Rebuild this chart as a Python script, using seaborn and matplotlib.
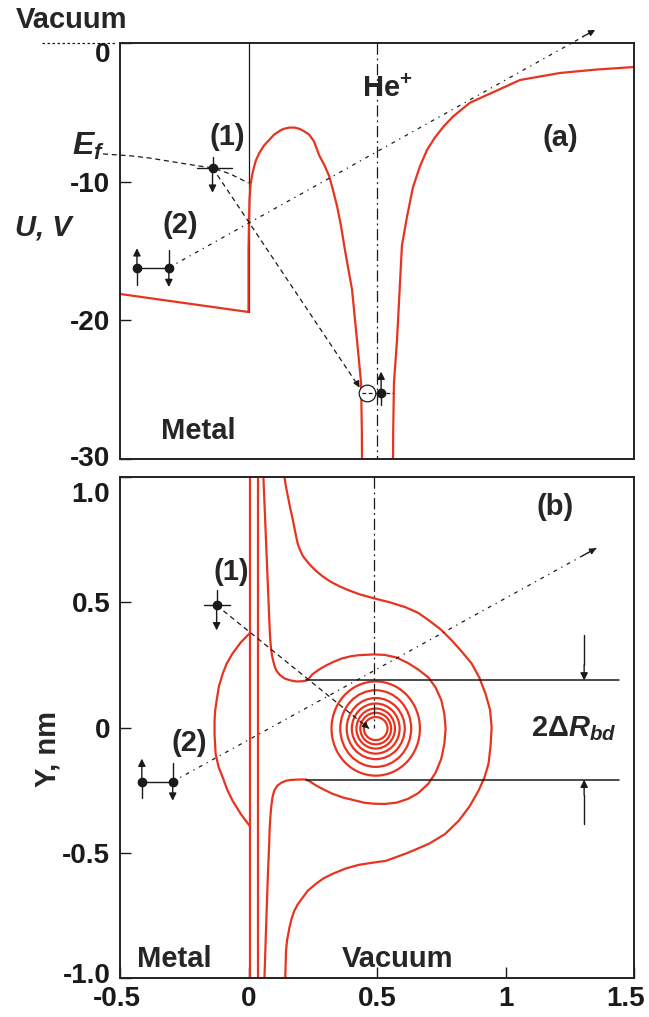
import numpy as np
import pandas as pd
import seaborn as sns
import matplotlib.pyplot as plt
import matplotlib.transforms as mtransforms
from matplotlib.patches import Ellipse

sns.set_theme(style='ticks')
plt.rcParams['font.family'] = ['Liberation Sans', 'DejaVu Sans']
plt.rcParams['font.weight'] = 'bold'
plt.rcParams['axes.unicode_minus'] = False
plt.rcParams['mathtext.fontset'] = 'custom'
plt.rcParams['mathtext.rm'] = 'Liberation Sans:bold'
plt.rcParams['mathtext.it'] = 'Liberation Sans:italic:bold'
plt.rcParams['mathtext.bf'] = 'Liberation Sans:bold'

RED = '#e8341f'
FS = 21

# ---- (a) potential energy along the trajectory ----
u_left_x = [-0.5, 0.0, 0.0, 0.0, 0.002, 0.004, 0.008, 0.016, 0.028, 0.043, 0.06, 0.081, 0.1,
            0.12, 0.135, 0.159, 0.18, 0.2, 0.215, 0.236, 0.255, 0.275, 0.295, 0.314, 0.33,
            0.345, 0.36, 0.375, 0.403, 0.422, 0.438, 0.441, 0.442]
u_left_y = [-18.1, -19.4, -19.4, -14.9, -13.0, -11.3, -10.2, -9.35, -8.5, -7.9, -7.4, -6.98,
            -6.6, -6.35, -6.2, -6.1, -6.1, -6.2, -6.35, -6.6, -7.1, -8.1, -8.8, -9.6, -10.7,
            -11.8, -13.2, -14.9, -17.8, -21.4, -24.5, -28.0, -31.0]
u_right_x = [0.562, 0.563, 0.566, 0.578, 0.597, 0.617, 0.64, 0.667, 0.695, 0.726, 0.76, 0.796,
             0.862, 0.928, 1.056, 1.212, 1.35, 1.5]
u_right_y = [-31.0, -28.0, -24.5, -21.4, -14.6, -12.5, -10.4, -8.9, -7.7, -6.8, -6.0, -5.3,
             -4.3, -3.75, -2.67, -2.16, -1.92, -1.73]

ef_x = [-0.566, -0.45, -0.384, -0.3, -0.2, -0.14, -0.07, 0.0]
ef_y = [-8.0, -8.15, -8.3, -8.55, -8.85, -9.0, -9.45, -10.1]

a_p1 = (-0.14, -9.0)          # electron (1)
a_p2 = [(-0.434, -16.2), (-0.31, -16.2)]   # electron pair (2)
a_hole = (0.461, -25.25)
a_ion_e = (0.516, -25.25)
a_traj2_end = (1.349, 0.94)
ion_x_a = 0.5

# ---- (b) equipotential map ----
wall_x = [0.006, 0.036]

sep_x = [0.058, 0.07, 0.081, 0.083, 0.085, 0.088, 0.093, 0.1, 0.108, 0.122, 0.14, 0.165,
         0.186, 0.21, 0.225, 0.235, 0.248, 0.275, 0.302, 0.33, 0.364, 0.40, 0.43, 0.488,
         0.53, 0.575, 0.62, 0.66, 0.70, 0.728, 0.75, 0.762, 0.767, 0.762, 0.75, 0.728, 0.70,
         0.66, 0.62, 0.575, 0.53, 0.488, 0.45, 0.419, 0.37, 0.326, 0.29, 0.264, 0.24, 0.225,
         0.21, 0.186, 0.165, 0.147, 0.128, 0.112, 0.1, 0.093, 0.088, 0.085, 0.082, 0.081,
         0.075, 0.07, 0.062]
sep_y = [1.0, 0.7, 0.428, 0.38, 0.348, 0.31, 0.28, 0.25, 0.228, 0.21, 0.196, 0.188,
         0.184, 0.185, 0.188, 0.196, 0.212, 0.232, 0.248, 0.262, 0.276, 0.285, 0.289, 0.292,
         0.29, 0.28, 0.258, 0.232, 0.2, 0.16, 0.11, 0.055, -0.004, -0.065, -0.125, -0.18,
         -0.224, -0.262, -0.285, -0.3, -0.305, -0.304, -0.3, -0.292, -0.28, -0.264, -0.246,
         -0.232, -0.216, -0.208, -0.207, -0.208, -0.209, -0.212, -0.22, -0.232, -0.252,
         -0.28, -0.32, -0.36, -0.41, -0.452, -0.6, -0.75, -1.0]

out_x = [0.140, 0.146, 0.153, 0.162, 0.172, 0.181, 0.191, 0.2, 0.212, 0.237, 0.26, 0.288,
         0.32, 0.354, 0.39, 0.432, 0.488, 0.55, 0.612, 0.66, 0.702, 0.75, 0.791, 0.83, 0.868,
         0.898, 0.922, 0.94, 0.946, 0.942, 0.934, 0.918, 0.895, 0.86, 0.818, 0.765, 0.702,
         0.62, 0.535, 0.48, 0.43, 0.38, 0.327, 0.292, 0.262, 0.232, 0.21, 0.192, 0.178,
         0.167, 0.159, 0.15, 0.146, 0.143]
out_y = [1.0, 0.96, 0.924, 0.878, 0.832, 0.785, 0.736, 0.71, 0.684, 0.652, 0.628, 0.604,
         0.582, 0.564, 0.548, 0.532, 0.516, 0.5, 0.48, 0.458, 0.428, 0.39, 0.348, 0.303,
         0.256, 0.2, 0.136, 0.07, 0.0, -0.072, -0.144, -0.2, -0.252, -0.315, -0.372, -0.425,
         -0.464, -0.5, -0.532, -0.54, -0.548, -0.562, -0.584, -0.602, -0.624, -0.65, -0.68,
         -0.705, -0.732, -0.765, -0.8, -0.85, -0.892, -1.0]

arc_x = [0.004, -0.03, -0.062, -0.085, -0.1, -0.115, -0.124, -0.13, -0.132, -0.132, -0.128,
         -0.117, -0.1, -0.082, -0.062, -0.03, 0.004]
arc_y = [0.376, 0.34, 0.296, 0.255, 0.216, 0.165, 0.108, 0.065, 0.028, -0.03, -0.104,
         -0.155, -0.2, -0.25, -0.292, -0.345, -0.392]

ring_cx, ring_cy = 0.495, -0.004
ring_rx = [0.172, 0.138, 0.113, 0.093, 0.075, 0.06, 0.046]
ring_ry = [0.188, 0.153, 0.122, 0.100, 0.080, 0.063, 0.046]

bd_y = [0.188, -0.208]
bd_x = [0.225, 1.44]
bd_arrow_x = 1.306

b_p1 = (-0.124, 0.488)
b_p1_end = (0.469, -0.004)
b_p2 = [(-0.415, -0.216), (-0.295, -0.216)]
b_traj2_end = (1.353, 0.716)
ion_x_b = 0.49


def curve(ax, xs, ys, **kw):
    sns.lineplot(x=xs, y=ys, sort=False, estimator=None, ax=ax, **kw)


def head(ax, start, end, ms=11):
    ax.annotate('', xy=end, xytext=start, annotation_clip=False,
                arrowprops=dict(arrowstyle='-|>', color='k', lw=1.0, mutation_scale=ms,
                                shrinkA=0, shrinkB=0))


def nudge(label, dx, dy):
    off = mtransforms.ScaledTranslation(dx / 100, dy / 100, fig.dpi_scale_trans)
    label.set_transform(label.get_transform() + off)


fig = plt.figure(figsize=(6.49, 10.17), dpi=100)
ax1 = fig.add_axes([0.1849, 0.5487, 0.792, 0.409])
ax2 = fig.add_axes([0.1849, 0.0383, 0.792, 0.4926])

DOT = (0, (3, 4, 1, 4))
DASH = (0, (4, 3))
DASHDOT = (0, (9, 3, 1.5, 3))

# ---------------- panel (a) ----------------
ax = ax1
curve(ax, [0, 0], [0, -19.4], color='k', linewidth=0.9)
curve(ax, u_left_x, u_left_y, color=RED, linewidth=1.6)
curve(ax, u_right_x, u_right_y, color=RED, linewidth=1.6)
curve(ax, [ion_x_a, ion_x_a], [0, -30], color='k', linewidth=0.9, linestyle=DASHDOT)

ln = ax.plot(ef_x, ef_y, color='k', lw=0.9, linestyle=DASH)[0]
ln.set_clip_on(False)
ax.plot([-0.802, -0.512], [0, 0], color='k', lw=0.9, linestyle=(0, (2, 2)), clip_on=False)

# electron (1)
ax.plot([a_p1[0] - 0.062, a_p1[0] + 0.074], [a_p1[1]] * 2, color='k', lw=1.0)
ax.plot([a_p1[0]] * 2, [-8.2, a_p1[1]], color='k', lw=1.0)
head(ax, (a_p1[0], a_p1[1]), (a_p1[0], -10.8))
ax.plot(*a_p1, 'o', color='k', ms=6)
ax.plot([a_p1[0], 0.43], [a_p1[1], -24.8], color='k', lw=0.9, linestyle=DASH)
head(ax, (0.42, -24.45), (0.432, -24.85), ms=9)

# pair (2)
ax.plot([a_p2[0][0], a_p2[1][0]], [a_p2[0][1]] * 2, color='k', lw=1.0)
ax.plot([a_p2[0][0]] * 2, [-17.45, a_p2[0][1]], color='k', lw=1.0)
head(ax, a_p2[0], (a_p2[0][0], -14.8))
ax.plot([a_p2[1][0]] * 2, [-14.9, a_p2[1][1]], color='k', lw=1.0)
head(ax, a_p2[1], (a_p2[1][0], -17.6))
ax.plot([p[0] for p in a_p2], [p[1] for p in a_p2], 'o', color='k', ms=6)
ln = ax.plot([a_p2[1][0], a_traj2_end[0]], [a_p2[1][1], a_traj2_end[1]], color='k', lw=0.9,
             linestyle=DOT)[0]
ln.set_clip_on(False)
head(ax, (1.30, 0.45), a_traj2_end, ms=9)

# hole and electron at the ion
ax.plot([0.438, 0.562], [a_hole[1]] * 2, color='k', lw=0.9, linestyle=(0, (3, 2)))
ax.plot(*a_hole, 'o', mfc='white', mec='k', mew=0.9, ms=12)
ax.plot([0.442, 0.484], [a_hole[1]] * 2, color='k', lw=0.9, linestyle=(0, (3, 2)))
ax.plot([a_ion_e[0]] * 2, [-26.1, a_ion_e[1]], color='k', lw=1.0)
head(ax, a_ion_e, (a_ion_e[0], -23.7))
ax.plot(*a_ion_e, 'o', color='k', ms=6)

ax.text(-0.081, -6.8, '(1)', fontsize=FS, ha='center', va='center')
ax.text(-0.267, -13.1, '(2)', fontsize=FS, ha='center', va='center')
ax.text(1.213, -6.85, '(a)', fontsize=FS, ha='center', va='center')
ax.text(0.539, -3.3, r'$\mathrm{He}^{+}$', fontsize=FS, ha='center', va='center')
ax.text(-0.194, -28.0, 'Metal', fontsize=FS, ha='center', va='center')

ax.set_xlim(-0.5, 1.5)
ax.set_ylim(-30, 0)
ax.set_yticks([0, -10, -20, -30])
ax.set_yticklabels(['0', '-10', '-20', '-30'])
ax.set_xticks([])

# ---------------- panel (b) ----------------
ax = ax2
for wx in wall_x:
    curve(ax, [wx, wx], [-1, 1], color=RED, linewidth=1.6)
curve(ax, arc_x, arc_y, color=RED, linewidth=1.6)
curve(ax, sep_x, sep_y, color=RED, linewidth=1.6)
curve(ax, out_x, out_y, color=RED, linewidth=1.6)
for rx, ry in zip(ring_rx, ring_ry):
    ax.add_patch(Ellipse((ring_cx, ring_cy), 2 * rx, 2 * ry, fill=False, ec=RED, lw=1.6))

curve(ax, [ion_x_b, ion_x_b], [1.0, 0.0], color='k', linewidth=0.9, linestyle=DASHDOT)
for yy in bd_y:
    curve(ax, bd_x, [yy, yy], color='k', linewidth=1.1)
ax.plot([bd_arrow_x] * 2, [0.368, 0.25], color='k', lw=1.0)
head(ax, (bd_arrow_x, 0.25), (bd_arrow_x, bd_y[0]))
ax.plot([bd_arrow_x] * 2, [-0.384, -0.27], color='k', lw=1.0)
head(ax, (bd_arrow_x, -0.27), (bd_arrow_x, bd_y[1]))

# electron (1)
ax.plot([b_p1[0] - 0.05, b_p1[0] + 0.052], [b_p1[1]] * 2, color='k', lw=1.0)
ax.plot([b_p1[0]] * 2, [0.548, b_p1[1]], color='k', lw=1.0)
head(ax, b_p1, (b_p1[0], 0.388))
ax.plot(*b_p1, 'o', color='k', ms=6)
ax.plot([b_p1[0], b_p1_end[0]], [b_p1[1], b_p1_end[1]], color='k', lw=0.9, linestyle=DASH)
head(ax, (0.45, 0.012), b_p1_end, ms=9)

# pair (2)
ax.plot([b_p2[0][0], b_p2[1][0]], [b_p2[0][1]] * 2, color='k', lw=1.0)
ax.plot([b_p2[0][0]] * 2, [-0.28, b_p2[0][1]], color='k', lw=1.0)
head(ax, b_p2[0], (b_p2[0][0], -0.124))
ax.plot([b_p2[1][0]] * 2, [-0.14, b_p2[1][1]], color='k', lw=1.0)
head(ax, b_p2[1], (b_p2[1][0], -0.292))
ax.plot([p[0] for p in b_p2], [p[1] for p in b_p2], 'o', color='k', ms=6)
ax.plot([b_p2[1][0], b_traj2_end[0]], [b_p2[1][1], b_traj2_end[1]], color='k', lw=0.9,
        linestyle=DOT)
head(ax, (1.30, 0.686), b_traj2_end, ms=9)

ax.text(-0.066, 0.62, '(1)', fontsize=FS, ha='center', va='center')
ax.text(-0.229, -0.06, '(2)', fontsize=FS, ha='center', va='center')
ax.text(1.194, 0.88, '(b)', fontsize=FS, ha='center', va='center')
ax.text(1.264, -0.004, r'$2\Delta R_{bd}$', fontsize=FS, ha='center', va='center')
ax.text(-0.287, -0.924, 'Metal', fontsize=FS, ha='center', va='center')
ax.text(0.578, -0.924, 'Vacuum', fontsize=FS, ha='center', va='center')

ax.set_xlim(-0.5, 1.5)
ax.set_ylim(-1.0, 1.0)
ax.set_xticks([-0.5, 0, 0.5, 1, 1.5])
ax.set_xticklabels(['-0.5', '0', '0.5', '1', '1.5'])
ax.set_yticks([1.0, 0.5, 0, -0.5, -1.0])
ax.set_yticklabels(['1.0', '0.5', '0', '-0.5', '-1.0'])

for a in (ax1, ax2):
    a.set_xlabel('')
    a.set_ylabel('')
    a.tick_params(direction='in', length=8, width=1.0, labelsize=FS - 1, pad=7, colors='k')
    for s in a.spines.values():
        s.set_visible(True)
        s.set_linewidth(1.4)
        s.set_color('#222222')
    for t in a.get_xticklabels() + a.get_yticklabels():
        t.set_fontweight('bold')
ax2.tick_params(axis='x', pad=6)

# end labels sit inside the frame in the original
nudge(ax1.get_yticklabels()[0], 0, -9)
nudge(ax1.get_yticklabels()[-1], 0, 3)
nudge(ax2.get_yticklabels()[0], 0, -15)
nudge(ax2.get_yticklabels()[-1], 0, 5)
nudge(ax2.get_xticklabels()[-1], -8, 0)
nudge(ax2.get_xticklabels()[0], -3, 0)

fig.text(72 / 649, 1 - 20 / 1017, 'Vacuum', fontsize=FS, ha='center', va='center')
fig.text(88 / 649, 1 - 146 / 1017, r'$E_f$', fontsize=FS + 2, ha='center', va='center')
fig.text(43 / 649, 1 - 227 / 1017, 'U, V', fontsize=FS, ha='center', va='center',
         style='italic')
fig.text(47 / 649, 1 - 749 / 1017, 'Y, nm', fontsize=FS, ha='center', va='center',
         rotation=90)

fig.savefig('out.png', dpi=100)
